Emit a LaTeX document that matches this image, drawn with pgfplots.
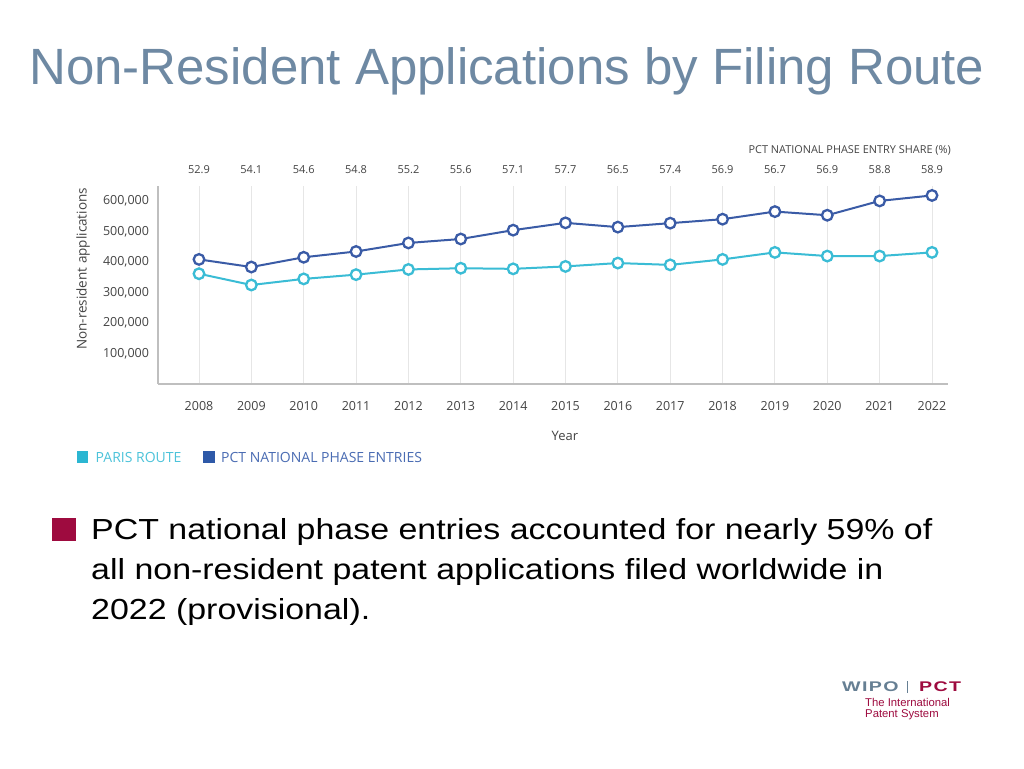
\documentclass[border=0pt]{standalone}
\usepackage{pgfplots}
\pgfplotsset{compat=1.18}
\usepackage{fontspec}
\setmainfont{Liberation Sans}
\newfontfamily\chartfont{Open Sans}
\newfontfamily\bulletfont[FakeStretch=1.17]{Liberation Sans}
\newfontfamily\logofont[FakeStretch=1.4,LetterSpace=10]{Liberation Sans}
\definecolor{titlecol}{HTML}{6E89A3}
\definecolor{pctblue}{HTML}{3A5BA6}
\definecolor{pariscyan}{HTML}{3ABCD5}
\definecolor{pctsq}{HTML}{2E59A8}
\definecolor{parissq}{HTML}{2BB6D2}
\definecolor{pcttext}{HTML}{4A6CB3}
\definecolor{paristext}{HTML}{4CC3DA}
\definecolor{axisgray}{HTML}{BFBFBF}
\definecolor{gridgray}{HTML}{E6E6E6}
\definecolor{ticktext}{HTML}{444444}
\definecolor{crimson}{HTML}{9E0B3F}
\definecolor{logogray}{HTML}{667F93}

\pgfplotstableread{
year paris pct
2008 362000 409000
2009 325000 384000
2010 345000 416000
2011 359000 435000
2012 376000 463000
2013 380000 476000
2014 378000 505000
2015 386000 529000
2016 397000 515000
2017 391000 528000
2018 409000 541000
2019 432000 566000
2020 420000 554000
2021 420000 601000
2022 432000 619000
}\datatable

\begin{document}
\begin{tikzpicture}
\path[use as bounding box, fill=white] (0pt,0pt) rectangle (1024pt,768pt);

% main axis
\begin{axis}[
  at={(158pt,384pt)}, anchor=south west,
  scale only axis, width=790pt, height=198pt,
  xmin=2007.217, xmax=2022.306, ymin=0, ymax=650000,
  scaled y ticks=false,
  axis x line*=bottom, axis y line*=left,
  axis line style={draw=axisgray, line width=1.5pt, -},
  xtick={2008,2009,2010,2011,2012,2013,2014,2015,2016,2017,2018,2019,2020,2021,2022},
  xticklabels={2008,2009,2010,2011,2012,2013,2014,2015,2016,2017,2018,2019,2020,2021,2022},
  ytick={100000,200000,300000,400000,500000,600000},
  yticklabels={{100,000},{200,000},{300,000},{400,000},{500,000},{600,000}},
  major tick length=0pt,
  xmajorgrids, major grid style={draw=gridgray, line width=0.9pt},
  xticklabel style={font=\chartfont\fontsize{12.5}{15}\selectfont, text=ticktext, yshift=-13.5pt},
  yticklabel style={font=\chartfont\fontsize{12.5}{15}\selectfont, text=ticktext, xshift=-5.5pt},
  xlabel={Year}, ylabel={Non-resident applications},
  every axis x label/.style={at={(axis description cs:0.515,0)}, yshift=-52pt, anchor=center, font=\chartfont\fontsize{13}{15}\selectfont, text=ticktext},
  every axis y label/.style={at={(axis description cs:0,0.581)}, xshift=-75pt, rotate=90, anchor=center, font=\chartfont\fontsize{13.5}{16}\selectfont, text=ticktext},
  clip=false,
]
\addplot[pariscyan, line width=2pt, mark=*, mark size=5.3pt, mark options={fill=white, draw=pariscyan, line width=2.3pt}] table[x=year, y=paris] {\datatable};
\addplot[pctblue, line width=2pt, mark=*, mark size=5.3pt, mark options={fill=white, draw=pctblue, line width=2.3pt}] table[x=year, y=pct] {\datatable};
\end{axis}

% share labels on top
\begin{axis}[
  at={(158pt,384pt)}, anchor=south west,
  scale only axis, width=790pt, height=198pt,
  xmin=2007.217, xmax=2022.306, ymin=0, ymax=1,
  axis x line*=top, hide y axis,
  axis line style={draw=none},
  xtick={2008,2009,2010,2011,2012,2013,2014,2015,2016,2017,2018,2019,2020,2021,2022},
  xticklabels={52.9,54.1,54.6,54.8,55.2,55.6,57.1,57.7,56.5,57.4,56.9,56.7,56.9,58.8,58.9},
  major tick length=0pt,
  xticklabel style={font=\chartfont\fontsize{11}{13}\selectfont, text=ticktext, yshift=8.5pt},
]
\addplot[draw=none] coordinates {(2010,0.5)};
\end{axis}

\begin{scope}[x=1pt,y=1pt]
% Title
\node[anchor=base west, inner sep=0pt, text=titlecol, font=\fontsize{51}{60}\selectfont] at (29,683) {Non-Resident Applications by Filing Route};

\node[anchor=base east, inner sep=0pt, text=ticktext, font=\chartfont\fontsize{10.9}{12}\selectfont] at (951,614) {PCT NATIONAL PHASE ENTRY SHARE (\%)};

% legend
\fill[parissq] (76.7,305) rectangle (88.3,316.5);
\node[anchor=base west, inner sep=0pt, text=paristext, font=\chartfont\fontsize{14}{16}\selectfont] at (95.5,305.3) {PARIS ROUTE};
\fill[pctsq] (203,305) rectangle (214.6,316.5);
\node[anchor=base west, inner sep=0pt, text=pcttext, font=\chartfont\fontsize{14}{16}\selectfont] at (221,305.3) {PCT NATIONAL PHASE ENTRIES};

% bullet
\fill[crimson] (52,227.3) rectangle (75.7,250);
\node[anchor=base west, inner sep=0pt, font=\bulletfont\fontsize{29}{34}\selectfont] at (91,228) {PCT national phase entries accounted for nearly 59\% of};
\node[anchor=base west, inner sep=0pt, font=\bulletfont\fontsize{29}{34}\selectfont] at (91,188) {all non-resident patent applications filed worldwide in};
\node[anchor=base west, inner sep=0pt, font=\bulletfont\fontsize{29}{34}\selectfont] at (91,148) {2022 (provisional).};

% logo
\node[anchor=base west, inner sep=0pt, text=logogray, font=\logofont\bfseries\fontsize{14}{16}\selectfont] at (842,76.3) {WIPO};
\draw[logogray, line width=0.6pt] (907.5,75.5) -- (907.5,87);
\node[anchor=base west, inner sep=0pt, text=crimson, font=\logofont\bfseries\fontsize{14}{16}\selectfont] at (919,76.3) {PCT};
\node[anchor=base west, inner sep=0pt, text=crimson, font=\fontsize{11.3}{13}\selectfont] at (865,61.3) {The International};
\node[anchor=base west, inner sep=0pt, text=crimson, font=\fontsize{11.3}{13}\selectfont] at (865,50.7) {Patent System};
\end{scope}
\end{tikzpicture}
\end{document}
